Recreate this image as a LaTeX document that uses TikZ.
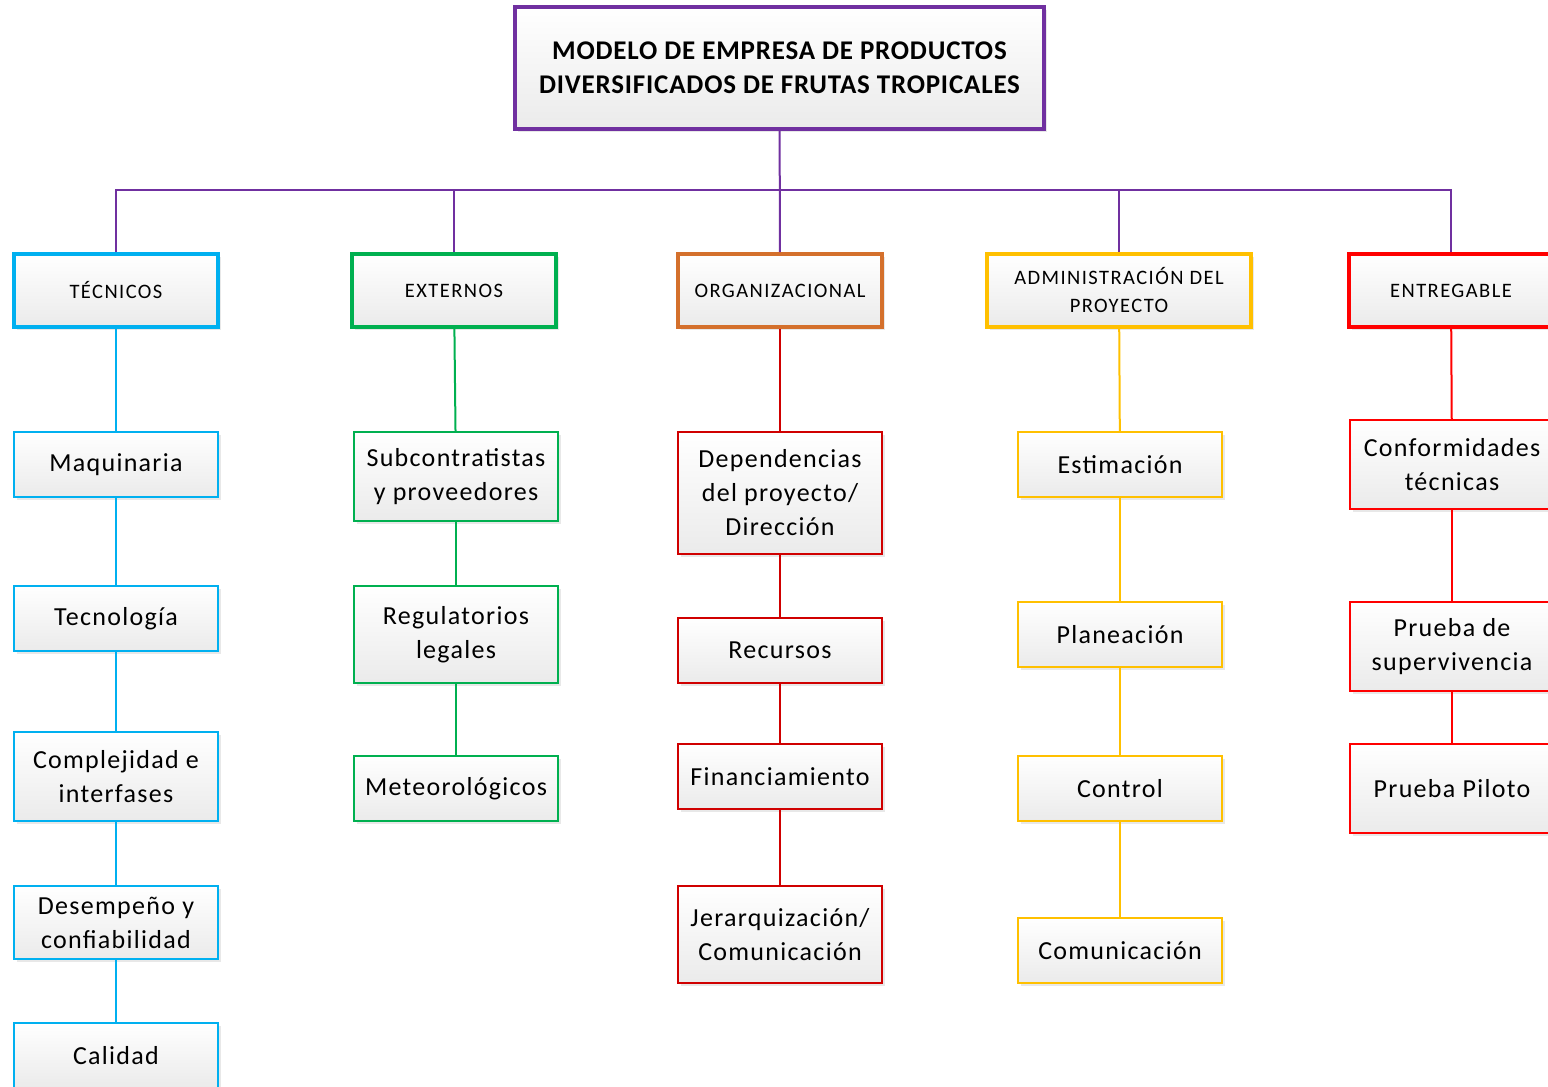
\documentclass[tikz,border=0pt]{standalone}
\usepackage{fontspec}
\setmainfont{Carlito}
\usetikzlibrary{shadows}

\definecolor{morado}{HTML}{7030A0}
\definecolor{celeste}{HTML}{00B0F0}
\definecolor{verde}{HTML}{00B050}
\definecolor{naranja}{HTML}{D4702C}
\definecolor{amarillo}{HTML}{FFC000}
\definecolor{rojo}{HTML}{FF0000}
\definecolor{rojooscuro}{HTML}{D00000}

\tikzset{
  caja/.style={draw, rectangle, align=center, top color=white, bottom color=black!8,
    drop shadow={opacity=.18, shadow xshift=3pt, shadow yshift=-3pt},
    minimum width=204, inner sep=2pt},
  titulo/.style={caja, line width=4,
    font=\fontsize{27}{34}\selectfont\bfseries\addfontfeatures{LetterSpace=3},
    minimum width=529, minimum height=122},
  cabeza/.style={caja, line width=4,
    font=\fontsize{20.5}{28}\selectfont\addfontfeatures{LetterSpace=7}, minimum height=73},
  hijo/.style={caja, line width=2,
    font=\fontsize{26}{34}\selectfont\addfontfeatures{LetterSpace=5}},
}

\begin{document}
\begin{tikzpicture}[x=1pt, y=-1pt]
\useasboundingbox (0,0) rectangle (1548,1087);
\clip (0,0) rectangle (1548,1087);

\node[titulo, draw=morado] (modelo) at (779.5,68) {MODELO DE EMPRESA DE PRODUCTOS\\DIVERSIFICADOS DE FRUTAS TROPICALES};

% cabezas
\node[cabeza, draw=celeste] (tec) at (116,290.5) {TÉCNICOS};
\node[cabeza, draw=verde] (ext) at (454,290.5) {EXTERNOS};
\node[cabeza, draw=naranja] (org) at (780,290.5) {ORGANIZACIONAL};
\node[cabeza, draw=amarillo, minimum width=264] (adm) at (1119,290.5) {ADMINISTRACIÓN DEL\\PROYECTO};
\node[cabeza, draw=rojo] (ent) at (1451,290.5) {ENTREGABLE};

\coordinate (bus) at (780,190);
\draw[morado, line width=2] (modelo) -- (org);
\draw[morado, line width=2] (tec.north) |- (bus) -| (ent.north);
\draw[morado, line width=2] (ext.north) -- (ext.north |- bus);
\draw[morado, line width=2] (adm.north) -- (adm.north |- bus);

% tecnicos
\node[hijo, draw=celeste, minimum height=65] (maq) at (116,464.5) {Maquinaria};
\node[hijo, draw=celeste, minimum height=65] (tecno) at (116,618.5) {Tecnología};
\node[hijo, draw=celeste, minimum height=89] (compl) at (116,776.5) {Complejidad e\\interfases};
\node[hijo, draw=celeste, minimum height=73] (desem) at (116,922.5) {Desempeño y\\confiabilidad};
\node[hijo, draw=celeste, minimum height=65] (cal) at (116,1055.5) {Calidad};
\foreach \a/\b in {tec/maq, maq/tecno, tecno/compl, compl/desem, desem/cal}
  \draw[celeste, line width=2] (\a) -- (\b);

% externos
\node[hijo, draw=verde, minimum height=89] (subc) at (456,476.5) {Subcontratistas\\y proveedores};
\node[hijo, draw=verde, minimum height=97] (regul) at (456,634.5) {Regulatorios\\legales};
\node[hijo, draw=verde, minimum height=65] (meteo) at (456,788.5) {Meteorológicos};
\foreach \a/\b in {ext/subc, subc/regul, regul/meteo}
  \draw[verde, line width=2] (\a) -- (\b);

% organizacional
\node[hijo, draw=rojooscuro, minimum height=122] (depen) at (780,493) {Dependencias\\del proyecto/\\Dirección};
\node[hijo, draw=rojooscuro, minimum height=65] (recur) at (780,650.5) {Recursos};
\node[hijo, draw=rojooscuro, minimum height=65] (finan) at (780,776.5) {Financiamiento};
\node[hijo, draw=rojooscuro, minimum height=97] (jerar) at (780,934.5) {Jerarquización/\\Comunicación};
\foreach \a/\b in {org/depen, depen/recur, recur/finan, finan/jerar}
  \draw[rojooscuro, line width=2] (\a) -- (\b);

% administracion del proyecto
\node[hijo, draw=amarillo, minimum height=65] (estim) at (1120,464.5) {Estimación};
\node[hijo, draw=amarillo, minimum height=65] (plan) at (1120,634.5) {Planeación};
\node[hijo, draw=amarillo, minimum height=65] (contr) at (1120,788.5) {Control};
\node[hijo, draw=amarillo, minimum height=65] (comun) at (1120,950.5) {Comunicación};
\foreach \a/\b in {adm/estim, estim/plan, plan/contr, contr/comun}
  \draw[amarillo, line width=2] (\a) -- (\b);

% entregable
\node[hijo, draw=rojo, minimum height=89] (conf) at (1452,464.5) {Conformidades\\técnicas};
\node[hijo, draw=rojo, minimum height=89] (superv) at (1452,646.5) {Prueba de\\supervivencia};
\node[hijo, draw=rojo, minimum height=89] (pilot) at (1452,788.5) {Prueba Piloto};
\foreach \a/\b in {ent/conf, conf/superv, superv/pilot}
  \draw[rojo, line width=2] (\a) -- (\b);
\end{tikzpicture}
\end{document}
